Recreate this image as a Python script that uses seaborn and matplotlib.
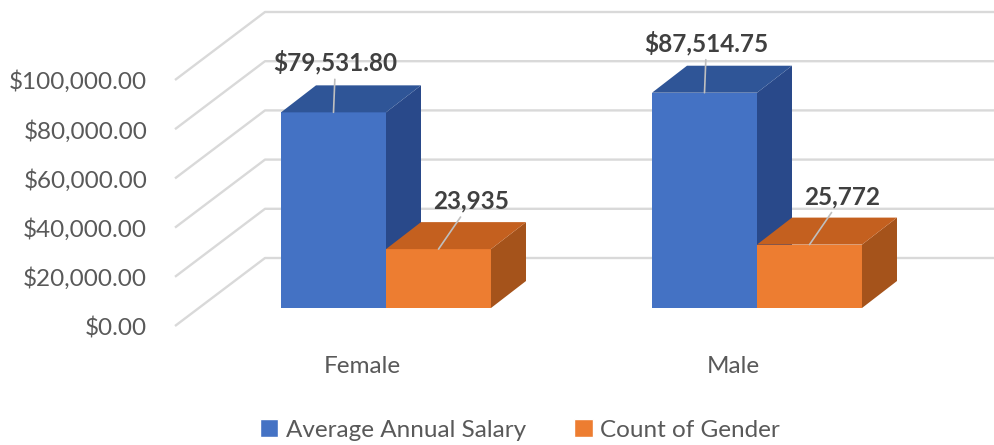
import numpy as np
import pandas as pd
import seaborn as sns
import matplotlib.pyplot as plt
from matplotlib.patches import Polygon

genders = ["Female", "Male"]
measures = ["Average Annual Salary", "Count of Gender"]
salary = [79531.80, 87514.75]
counts = [23935, 25772]
yticks = [0, 20000, 40000, 60000, 80000, 100000]

front_colors = ["#4472C4", "#ED7D31"]
top_colors = ["#2F5597", "#C4601F"]
side_colors = ["#29498A", "#A5531B"]

df = pd.DataFrame({
    "gender": genders * 2,
    "measure": [measures[0]] * 2 + [measures[1]] * 2,
    "value": salary + counts,
})

sns.set_theme(style="white")
plt.rcParams["font.family"] = ["Lato", "DejaVu Sans"]

W, H = 994, 445
fig = plt.figure(figsize=(W / 100, H / 100), dpi=100)
# axes box in pixels (left, right, top, bottom)
L, R, T, B = 150, 994, 0, 345
ax = fig.add_axes([L / W, 1 - B / H, (R - L) / W, (B - T) / H])

# pixel <-> data scale (bar plane is the data plane)
cat_px = 371.0          # px per category
val_px = 0.00246        # px per value unit
x0_px, y0_px = 386, 308  # pixel of x=0, value=0

def off(dx_px, dy_px):
    return dx_px / cat_px, dy_px / val_px

front_off = off(-24, -18)   # front plane
back_off = off(66, 50)      # back wall
depth = off(35, 27)         # bar depth

sns.barplot(data=df, x="gender", y="value", hue="measure", order=genders,
            hue_order=measures, palette=front_colors, width=0.566,
            ax=ax, saturation=1, legend=True)
ax.set_xlim((L - x0_px) / cat_px, (R - x0_px) / cat_px)
ax.set_ylim((y0_px - B) / val_px, (y0_px - T) / val_px)

# back wall gridlines with slanted side wall part
wall_x = (199 - x0_px) / cat_px
xmax = ax.get_xlim()[1]
for v in yticks:
    xs = [wall_x + front_off[0], wall_x + back_off[0], xmax]
    ys = [v + front_off[1], v + back_off[1], v + back_off[1]]
    ax.plot(xs, ys, color="#D9D9D9", lw=1.7, zorder=0.5, solid_capstyle="butt")

# 3d faces on each bar
dx, dy = depth
for i, cont in enumerate(ax.containers):
    z = 2 + 2 * i
    for bar in cont:
        bar.set_zorder(z)
        bar.set_edgecolor("none")
        x1 = bar.get_x()
        x2 = x1 + bar.get_width()
        h = bar.get_height()
        top = Polygon([(x1, h), (x2, h), (x2 + dx, h + dy), (x1 + dx, h + dy)],
                      closed=True, facecolor=top_colors[i], edgecolor="none", zorder=z + 0.2)
        side = Polygon([(x2, 0), (x2, h), (x2 + dx, h + dy), (x2 + dx, dy)],
                       closed=True, facecolor=side_colors[i], edgecolor="none", zorder=z + 0.1)
        ax.add_patch(top)
        ax.add_patch(side)

# data labels with leader lines
label_offsets = [(2, 50), (33, 48)]
for i, cont in enumerate(ax.containers):
    for bar in cont:
        h = bar.get_height()
        xc = bar.get_x() + bar.get_width() / 2
        txt = f"${h:,.2f}" if i == 0 else f"{h:,.0f}"
        ax.annotate(txt, xy=(xc, h), xytext=label_offsets[i], textcoords="offset pixels",
                    ha="center", va="center", fontsize=17.5, fontweight="bold", color="#404040",
                    arrowprops=dict(arrowstyle="-", color="#BFBFBF", lw=1.2, shrinkA=1, shrinkB=0),
                    zorder=10)

# ticks sit on the front plane
ax.set_yticks([v + front_off[1] for v in yticks])
ax.set_yticklabels([f"${v:,.2f}" for v in yticks])
ax.set_xticks([k + front_off[0] for k in range(len(genders))])
ax.set_xticklabels(genders)
ax.tick_params(axis="y", length=0, pad=2, labelsize=17.5, labelcolor="#595959")
ax.tick_params(axis="x", length=0, pad=8, labelsize=17.5, labelcolor="#595959")
ax.set_xlabel("")
ax.set_ylabel("")
for s in ax.spines.values():
    s.set_visible(False)

handles, labels = ax.get_legend_handles_labels()
ax.get_legend().remove()
fig.legend(handles, labels, loc="center", bbox_to_anchor=(520 / W, 1 - 430 / H), ncol=2,
           frameon=False, fontsize=17.5, handlelength=0.75, handleheight=0.75,
           handletextpad=0.3, columnspacing=2.0, labelcolor="#595959")

fig.savefig("out.png", dpi=100)
